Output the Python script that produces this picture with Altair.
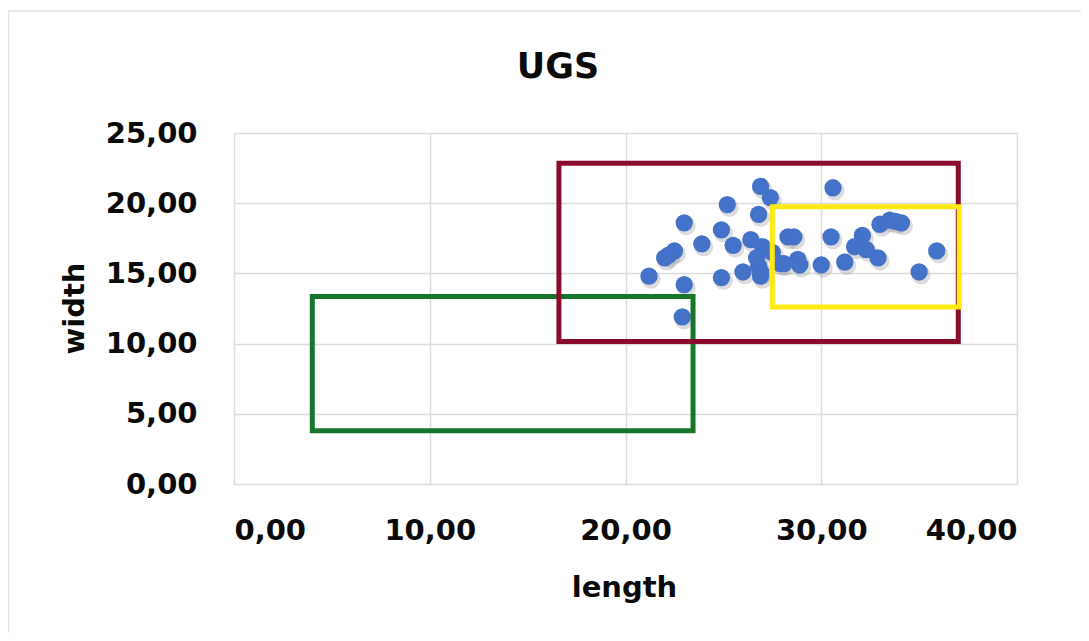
import altair as alt
import pandas as pd

# Scatter data (length, width)
length = [26.9, 27.4, 25.2, 26.8, 23.0, 24.9, 23.9, 25.5, 26.4, 27.0, 28.3, 22.5, 22.0,
          21.2, 23.0, 24.9, 26.0, 26.8, 26.9, 26.7, 28.1, 28.8, 30.6, 30.5, 28.6, 33.5,
          34.1, 33.0, 32.1, 31.7, 31.2, 32.9, 30.0, 28.9, 35.9, 35.0, 32.3, 22.9, 27.9,
          26.9, 22.2, 27.5, 33.8]
width = [21.2, 20.4, 19.9, 19.2, 18.6, 18.1, 17.1, 17.0, 17.4, 16.9, 17.6, 16.6, 16.1,
         14.8, 14.2, 14.7, 15.1, 15.5, 14.8, 16.1, 15.7, 16.0, 21.1, 17.6, 17.6, 18.8,
         18.6, 18.5, 17.7, 16.9, 15.8, 16.1, 15.6, 15.6, 16.6, 15.1, 16.7, 11.9, 15.7,
         15.1, 16.3, 16.5, 18.7]

# Region boxes
box_names = ["green", "red", "yellow"]
box_x1 = [4.0, 16.6, 27.5]
box_x2 = [23.45, 37.0, 37.05]
box_y1 = [3.8, 10.15, 12.6]
box_y2 = [13.35, 22.85, 19.75]
box_colors = ["#17762b", "#8a0c2c", "#ffe912"]

x_ticks = [0, 10, 20, 30, 40]
y_ticks = [0, 5, 10, 15, 20, 25]
chart_title = "UGS"

pts = pd.DataFrame({"length": length, "width": width})
boxes = pd.DataFrame({"name": box_names, "x1": box_x1, "x2": box_x2,
                      "y1": box_y1, "y2": box_y2})

FONT = "DejaVu Sans"
label_expr = "replace(format(datum.value, '.2f'), '.', ',')"

xscale = alt.Scale(domain=[0, 40], nice=False, zero=True)
yscale = alt.Scale(domain=[0, 25], nice=False, zero=True)

xaxis = alt.Axis(values=x_ticks, labelExpr=label_expr, grid=True, ticks=False,
                 domain=False, labelPadding=32, labelFontSize=29, labelFont=FONT,
                 labelFontWeight="bold", labelColor="#0a0a0a", title="length",
                 titleFont=FONT, titleFontSize=29, titleFontWeight="bold",
                 titleColor="#0a0a0a", titleX=390, titleY=103, titleBaseline="middle",
                 titleAlign="center", gridColor="#dcdcdc", gridWidth=1.5)
yaxis = alt.Axis(values=y_ticks, labelExpr=label_expr, grid=True, ticks=False,
                 domain=False, labelPadding=37, labelFontSize=29, labelFont=FONT,
                 labelFontWeight="bold", labelColor="#0a0a0a", title="width",
                 titleFont=FONT, titleFontSize=29, titleFontWeight="bold",
                 titleColor="#0a0a0a", titleX=-160, titleY=175, titleAngle=270,
                 titleBaseline="middle", titleAlign="center", gridColor="#dcdcdc",
                 gridWidth=1.5)

one = pd.DataFrame({"t": [chart_title]})

frame = alt.Chart(one).mark_rect(
    filled=False, stroke="#e3e3e3", strokeWidth=1.5, clip=False
).encode(x=alt.value(-225.5), x2=alt.value(900), y=alt.value(-122), y2=alt.value(600))

title = alt.Chart(one).mark_text(
    font=FONT, fontSize=35, fontWeight="bold", color="#0a0a0a",
    align="center", baseline="alphabetic", clip=False
).encode(text="t:N", x=alt.value(324), y=alt.value(-55))

shadow = alt.Chart(pts).mark_circle(
    size=360, color="#8a8a8a", opacity=0.3, xOffset=2, yOffset=3
).encode(x=alt.X("length:Q", scale=xscale, axis=xaxis),
         y=alt.Y("width:Q", scale=yscale, axis=yaxis))

points = alt.Chart(pts).mark_circle(
    size=300, color="#4472c8", opacity=1
).encode(x=alt.X("length:Q", scale=xscale),
         y=alt.Y("width:Q", scale=yscale))

rects = alt.Chart(boxes).mark_rect(filled=False, strokeWidth=5).encode(
    x=alt.X("x1:Q", scale=xscale),
    x2="x2:Q",
    y=alt.Y("y1:Q", scale=yscale),
    y2="y2:Q",
    stroke=alt.Stroke("name:N", scale=alt.Scale(domain=box_names, range=box_colors),
                      legend=None),
)

chart = alt.layer(frame, title, shadow, points, rects).properties(
    width=783, height=351,
    autosize=alt.AutoSizeParams(type="none"),
    padding={"left": 226, "top": 125, "right": 64, "bottom": 149},
).configure_view(stroke=None).configure(background="white")

chart.save("out.html", embed_options={"renderer": "svg", "actions": False})
